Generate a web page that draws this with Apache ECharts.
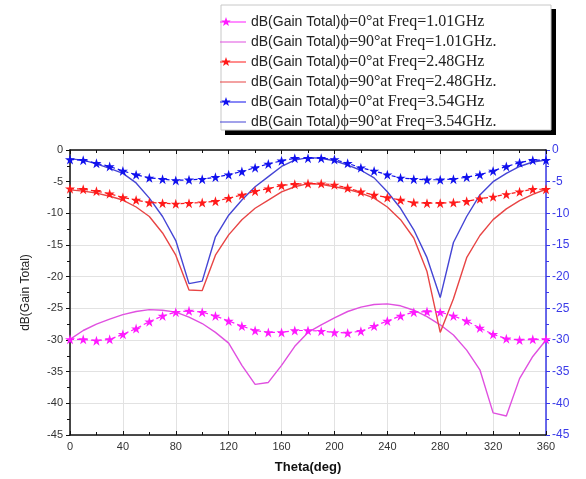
<!DOCTYPE html>
<html><head><meta charset="utf-8">
<script src="https://cdn.jsdelivr.net/npm/echarts@6/dist/echarts.min.js"></script>
<style>html,body{margin:0;padding:0;background:#fff}#c{width:586px;height:479px}</style>
</head><body><div id="c"></div>
<script>
const theta = [0,10,20,30,40,50,60,70,80,90,100,110,120,130,140,150,160,170,180,190,200,210,220,230,240,250,260,270,280,290,300,310,320,330,340,350,360];
const seriesNames = [
  'dB(Gain Total)ϕ=0°at Freq=1.01GHz',
  'dB(Gain Total)ϕ=90°at Freq=1.01GHz.',
  'dB(Gain Total)ϕ=0°at Freq=2.48GHz',
  'dB(Gain Total)ϕ=90°at Freq=2.48GHz.',
  'dB(Gain Total)ϕ=0°at Freq=3.54GHz',
  'dB(Gain Total)ϕ=90°at Freq=3.54GHz.'
];
const mag0 = [-29.9,-29.9,-30.1,-29.9,-29.1,-28.2,-27.1,-26.2,-25.6,-25.4,-25.6,-26.2,-27.0,-27.8,-28.5,-28.8,-28.8,-28.5,-28.5,-28.6,-28.8,-28.9,-28.6,-27.8,-27.0,-26.2,-25.6,-25.5,-25.6,-26.2,-27.0,-28.1,-29.1,-29.8,-30.0,-29.9,-29.9];
const mag90 = [-29.9,-28.5,-27.5,-26.7,-26.0,-25.5,-25.2,-25.3,-25.6,-26.4,-27.4,-28.8,-30.5,-34.0,-37.0,-36.7,-34.0,-31.0,-28.8,-27.6,-26.5,-25.5,-24.8,-24.4,-24.3,-24.6,-25.3,-26.3,-27.6,-29.2,-31.6,-34.7,-41.5,-42.0,-36.1,-32.6,-30.0];
const red0 = [-6.1,-6.2,-6.5,-6.9,-7.5,-7.9,-8.3,-8.4,-8.5,-8.4,-8.3,-8.1,-7.6,-7.1,-6.5,-6.1,-5.6,-5.4,-5.3,-5.3,-5.5,-6.0,-6.6,-7.1,-7.5,-7.9,-8.3,-8.4,-8.4,-8.3,-8.1,-7.7,-7.4,-7.0,-6.6,-6.2,-6.2];
const red90 = [-6.3,-6.5,-6.8,-7.3,-7.9,-9.0,-10.5,-13.1,-16.6,-22.1,-22.2,-16.6,-13.4,-11.0,-9.2,-7.9,-6.6,-5.8,-5.3,-5.4,-5.8,-6.2,-6.8,-7.6,-9.0,-11.0,-13.9,-19.2,-28.8,-23.5,-17.0,-13.5,-11.0,-9.3,-8.0,-7.0,-6.2];
const blue0 = [-1.5,-1.6,-2.1,-2.6,-3.3,-3.9,-4.4,-4.6,-4.8,-4.7,-4.6,-4.3,-3.9,-3.4,-2.8,-2.2,-1.7,-1.3,-1.3,-1.3,-1.5,-2.1,-2.8,-3.3,-3.9,-4.4,-4.6,-4.7,-4.7,-4.6,-4.3,-3.9,-3.3,-2.6,-2.0,-1.6,-1.6];
const blue90 = [-1.4,-1.6,-2.2,-2.9,-3.7,-5.2,-7.6,-10.5,-14.3,-21.1,-20.7,-13.7,-10.3,-7.9,-5.8,-4.2,-2.6,-1.6,-1.2,-1.3,-1.7,-2.4,-3.2,-4.4,-6.6,-9.2,-12.6,-17.0,-23.3,-14.6,-10.5,-7.1,-5.0,-3.7,-2.6,-1.9,-1.6];
const xTicks = [0,40,80,120,160,200,240,280,320,360];
const yTicks = [0,-5,-10,-15,-20,-25,-30,-35,-40,-45];

const pair = arr => arr.map((v,i)=>[theta[i], v]);
const F = '"Liberation Sans", Arial, sans-serif';
const SF = '"Liberation Serif", "Times New Roman", serif';
const STAR = 'path://M50,0 L61.8,35.5 L100,35.5 L69.1,57.5 L80.9,93 L50,71 L19.1,93 L30.9,57.5 L0,35.5 L38.2,35.5 Z';
const BOX = 'M0,0 L0.01,0 L0,0.01 Z M26,16 L25.99,16 L26,15.99 Z ';
const LINE_ICON = 'path://' + BOX + 'M0,7.4 L26,7.4 L26,8.6 L0,8.6 Z';
const STAR_ICON = 'path://' + BOX + 'M0,7.4 L26,7.4 L26,8.6 L0,8.6 Z M6,3 L7.18,6.38 L10.76,6.45 L7.90,8.62 L8.94,12.05 L6,10 L3.06,12.05 L4.10,8.62 L1.24,6.45 L4.82,6.38 Z';

function starSeries(name, data, col){
  return {name, type:'line', data:pair(data), symbol:STAR, symbolSize:10,
    itemStyle:{color:col}, lineStyle:{color:col, width:1.2, type:[4,3]}, z:3};
}
function lineSeries(name, data, col){
  return {name, type:'line', data:pair(data), symbol:'none', lineStyle:{color:col, width:1.4}, itemStyle:{color:col}, z:2};
}
const chart = echarts.init(document.getElementById('c'), null, {renderer:'canvas'});
chart.setOption({
  backgroundColor:'#fff',
  animation:false,
  textStyle:{fontFamily:F},
  graphic:[
    {type:'rect', shape:{x:225,y:9,width:331,height:126}, style:{fill:'#000'}, z:0},
    {type:'rect', shape:{x:221,y:5,width:330,height:125}, style:{fill:'#fff', stroke:'#c8c8c8', lineWidth:1}, z:1}
  ],
  legend:{
    orient:'vertical', left:220, top:14, padding:0, itemWidth:26, itemHeight:16, itemGap:4,
    symbolKeepAspect:false,
    data:seriesNames.map((n,i)=>({name:n, icon: i%2===0 ? STAR_ICON : LINE_ICON})),
    formatter: n => '{a|dB(Gain Total)}{b|' + n.slice(14) + '}',
    textStyle:{color:'#222', rich:{a:{fontFamily:F, fontSize:14, color:'#222'}, b:{fontFamily:SF, fontSize:16, color:'#222'}}},
    z:5
  },
  grid:{left:70, right:40, top:150, bottom:44},
  xAxis:[{
    type:'value', min:0, max:360, interval:40,
    name:'Theta(deg)', nameLocation:'middle', nameGap:26,
    nameTextStyle:{fontFamily:F, fontSize:13, fontWeight:'bold', color:'#111'},
    axisLine:{onZero:false, lineStyle:{color:'#111', width:1.5}},
    axisTick:{inside:true, length:4, lineStyle:{color:'#111'}},
    minorTick:{show:true, splitNumber:2, length:3, lineStyle:{color:'#111'}},
    axisLabel:{color:'#333', fontSize:11, margin:6},
    splitLine:{show:true, lineStyle:{color:'#e2e2e2', width:1}}
  },{
    type:'value', min:0, max:360, interval:40, position:'top',
    axisLine:{show:true, onZero:false, lineStyle:{color:'#111', width:1.5}},
    axisTick:{inside:true, length:4, lineStyle:{color:'#111'}},
    minorTick:{show:true, splitNumber:2, length:3, lineStyle:{color:'#111'}},
    axisLabel:{show:false}, splitLine:{show:false}
  }],
  yAxis:[{
    type:'value', min:-45, max:0, interval:5, position:'left',
    name:'dB(Gain Total)', nameLocation:'middle', nameGap:38,
    nameTextStyle:{fontFamily:F, fontSize:12, color:'#222'},
    axisLine:{show:true, onZero:false, lineStyle:{color:'#111', width:1.5}},
    axisTick:{show:true, length:4, lineStyle:{color:'#111'}},
    minorTick:{show:true, splitNumber:2, length:3, lineStyle:{color:'#111'}},
    axisLabel:{color:'#333', fontSize:11, margin:7},
    splitLine:{show:true, lineStyle:{color:'#e2e2e2', width:1}}
  },{
    type:'value', min:-45, max:0, interval:5, position:'right',
    axisLine:{show:true, onZero:false, lineStyle:{color:'#3a3ae8', width:1.5}},
    axisTick:{show:true, length:4, lineStyle:{color:'#3a3ae8'}},
    minorTick:{show:true, splitNumber:2, length:3, lineStyle:{color:'#3a3ae8'}},
    axisLabel:{color:'#3a3ae8', fontSize:12, margin:6},
    splitLine:{show:false}
  }],
  series:[
    starSeries(seriesNames[0], mag0, '#ff1aff'),
    lineSeries(seriesNames[1], mag90, '#e050e0'),
    starSeries(seriesNames[2], red0, '#ff1a1a'),
    lineSeries(seriesNames[3], red90, '#e84545'),
    starSeries(seriesNames[4], blue0, '#1010ee'),
    lineSeries(seriesNames[5], blue90, '#4545d5')
  ]
});
</script></body></html>
